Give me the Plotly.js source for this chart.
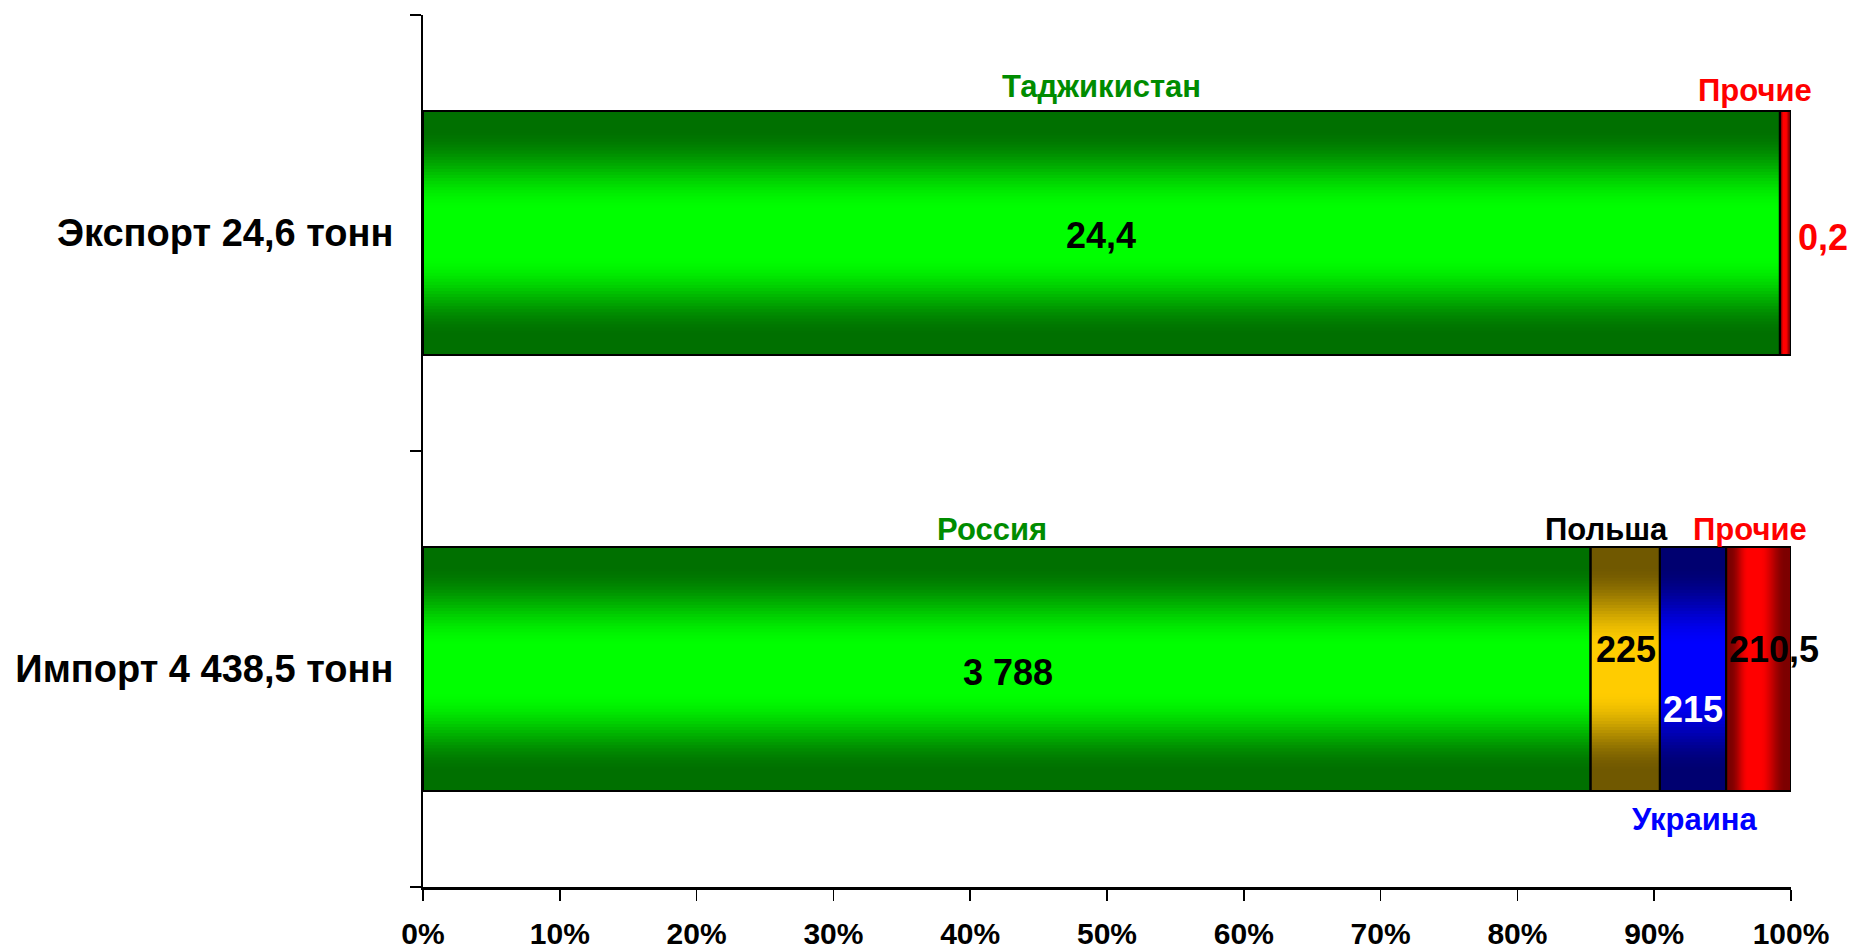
<!DOCTYPE html>
<html><head><meta charset="utf-8">
<script src="https://cdn.plot.ly/plotly-3.0.1.min.js"></script>
<style>html,body{margin:0;padding:0;background:#fff}#chart{width:1854px;height:952px}</style>
</head><body><div id="chart"></div>
<script>
// ---- data ----
const categories = ['Импорт 4 438,5 тонн', 'Экспорт 24,6 тонн'];
const exportCountries = ['Таджикистан', 'Прочие'];
const exportValues = [24.4, 0.2];
const importCountries = ['Россия', 'Польша', 'Украина', 'Прочие'];
const importValues = [3788, 225, 215, 210.5];
const xTickValues = [0, 10, 20, 30, 40, 50, 60, 70, 80, 90, 100];
const xTickLabels = ['0%', '10%', '20%', '30%', '40%', '50%', '60%', '70%', '80%', '90%', '100%'];

// ---- styles ----
const FONT = 'Liberation Sans, Arial, sans-serif';
const styles = {
  'Таджикистан': {dark: [0, 112, 0], bright: [0, 255, 0], dir: 'v', label: 'rgb(0,140,0)'},
  'Россия':      {dark: [0, 112, 0], bright: [0, 255, 0], dir: 'v', label: 'rgb(0,140,0)'},
  'Польша':      {dark: [112, 88, 0], bright: [255, 204, 0], dir: 'v', label: '#000000'},
  'Украина':     {dark: [0, 0, 112], bright: [0, 0, 255], dir: 'v', label: '#0000ff'},
  'Прочие':      {dark: [125, 0, 0], bright: [255, 0, 0], dir: 'h', label: '#ff0000'}
};
// label placement relative to segment centre (x in %, y in category units)
const labelPos = [
  {ndx: 0,    ndy: 0.337, vdx: 0,    vdy: -0.005, vcol: '#000', vbg: null, vend: false},   // Таджикистан
  {ndx: -2.2, ndy: 0.326, vdx: 0,    vdy: -0.01,  vcol: '#ff0000', vbg: '#ffffff', vend: true}, // Прочие export
  {ndx: -1.1, ndy: 0.321, vdx: 0.1,  vdy: -0.007, vcol: '#000', vbg: null, vend: false},   // Россия
  {ndx: -1.4, ndy: 0.321, vdx: 0.06, vdy: 0.044,  vcol: '#000', vbg: null, vend: false},   // Польша
  {ndx: 0.17, ndy: -0.346, vdx: 0,   vdy: -0.094, vcol: '#ffffff', vbg: null, vend: false}, // Украина
  {ndx: -0.6, ndy: 0.321, vdx: 1.1,  vdy: 0.044,  vcol: '#000', vbg: null, vend: false}    // Прочие import
];

function fmt(v) {
  let s = (Math.round(v * 10) / 10).toString();
  let [ip, dp] = s.split('.');
  ip = ip.replace(/\B(?=(\d{3})+(?!\d))/g, ' ');
  return dp ? ip + ',' + dp : ip;
}

// ---- build segments ----
const segments = [];
function addRow(cat, names, vals) {
  const total = vals.reduce((a, b) => a + b, 0);
  let cum = 0;
  names.forEach((n, i) => {
    const len = vals[i] / total * 100;
    segments.push({cat: cat, base: cum, len: len, name: n, value: vals[i], st: styles[n]});
    cum += len;
  });
}
addRow(categories[1], exportCountries, exportValues);
addRow(categories[0], importCountries, importValues);

const W = 0.56, N = 40;
function mixCol(st, t) {
  let u = Math.min(1, Math.max(0, (t - 0.18) / 0.67));
  u = u * u * (3 - 2 * u);
  const m = 1 - u;
  const c = st.dark.map((d, i) => Math.round(d + (st.bright[i] - d) * m));
  return 'rgb(' + c.join(',') + ')';
}
const traces = [];
for (let k = 0; k < N; k++) {
  const y = [], x = [], base = [], width = [], color = [];
  segments.forEach(s => {
    const f = k / N;
    const t = 1 - (k + 0.5) / N;
    y.push(s.cat);
    if (s.st.dir === 'v') {
      x.push(s.len); base.push(s.base); width.push(W * (1 - f));
    } else {
      const c = 0.42;
      x.push(s.len * (1 - f)); base.push(s.base + s.len * c * f); width.push(W);
    }
    color.push(mixCol(s.st, t));
  });
  traces.push({type: 'bar', orientation: 'h', y: y, x: x, base: base, width: width,
    marker: {color: color, line: {width: 0}}, hoverinfo: 'skip', showlegend: false});
}
// outlines
traces.push({type: 'bar', orientation: 'h', y: segments.map(s => s.cat), x: segments.map(s => s.len),
  base: segments.map(s => s.base), width: segments.map(() => W),
  marker: {color: 'rgba(0,0,0,0)', line: {width: 2, color: '#000'}}, hoverinfo: 'skip', showlegend: false});

// ---- annotations ----
const annotations = [];
segments.forEach((s, i) => {
  const yc = categories.indexOf(s.cat);
  const xc = s.base + s.len / 2;
  const p = labelPos[i];
  annotations.push({x: xc + p.ndx, y: yc + p.ndy, xref: 'x', yref: 'y', text: s.name, showarrow: false,
    font: {family: FONT, size: 31, weight: 'bold', color: s.st.label}});
  const a = {x: p.vend ? s.base + s.len : xc + p.vdx, y: yc + p.vdy, xref: 'x', yref: 'y', text: fmt(s.value),
    showarrow: false, font: {family: FONT, size: 36, weight: 'bold', color: p.vcol}};
  if (p.vend) { a.xanchor = 'left'; a.xshift = 2; }
  if (p.vbg) { a.bgcolor = p.vbg; a.borderpad = 4; }
  annotations.push(a);
});

const layout = {
  width: 1854, height: 952,
  margin: {l: 423, r: 63, t: 15, b: 65},
  paper_bgcolor: '#ffffff', plot_bgcolor: '#ffffff',
  barmode: 'overlay',
  showlegend: false,
  xaxis: {range: [0, 100], tickvals: xTickValues, ticktext: xTickLabels, showgrid: false, zeroline: false,
    showline: true, linecolor: '#000', linewidth: 3, ticks: 'outside', ticklen: 11, tickwidth: 1.5, tickcolor: '#000',
    ticklabelstandoff: 7, tickfont: {family: FONT, size: 30, weight: 'bold', color: '#000'}, fixedrange: true},
  yaxis: {type: 'category', categoryorder: 'array', categoryarray: categories, range: [-0.5, 1.5],
    showgrid: false, zeroline: false, showline: true, linecolor: '#000', linewidth: 2,
    ticks: 'outside', tickson: 'boundaries', ticklen: 11, tickwidth: 2, tickcolor: '#000',
    ticklabelstandoff: 20, tickfont: {family: FONT, size: 38, weight: 'bold', color: '#000'}, fixedrange: true},
  annotations: annotations
};
Plotly.newPlot('chart', traces, layout, {displayModeBar: false, staticPlot: true});
</script>
</body></html>
